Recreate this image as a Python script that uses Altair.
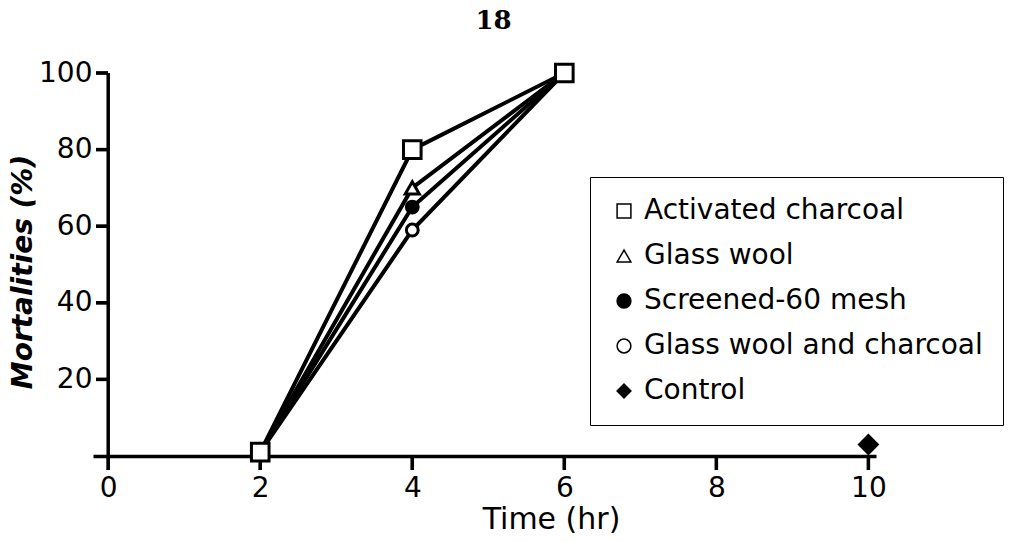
import altair as alt
import pandas as pd

# ---- data ----
series_names = ["Activated charcoal", "Glass wool", "Screened-60 mesh",
                "Glass wool and charcoal", "Control"]
times = [2, 4, 6]
activated_charcoal = [1, 80, 100]
glass_wool = [1, 70, 100]
screened_60_mesh = [1, 65, 100]
glass_wool_and_charcoal = [1, 59, 100]
control_times = [10]
control = [3]

x_ticks = [0, 2, 4, 6, 8, 10]
y_ticks = [20, 40, 60, 80, 100]

shapes = ["square", "triangle-up", "circle", "circle", "diamond"]
fills = ["white", "white", "black", "white", "black"]
strokes = ["black", "black", "black", "black", "black"]

draw_order = [
    ("Glass wool and charcoal", times, glass_wool_and_charcoal),
    ("Screened-60 mesh", times, screened_60_mesh),
    ("Glass wool", times, glass_wool),
    ("Activated charcoal", times, activated_charcoal),
    ("Control", control_times, control),
]
rows = []
for name, ts, vals in draw_order:
    for t, v in zip(ts, vals):
        rows.append({"Treatment": name, "Time": t, "Mortality": v})
df = pd.DataFrame(rows)
xtick_df = pd.DataFrame({"Time": x_ticks})
ytick_df = pd.DataFrame({"Mortality": y_ticks})

FONT = "DejaVu Sans"
TICK = 14                 # tick length in px
W, H = 783, 383 + TICK    # plot area reaches down to the tick ends

x_scale = alt.Scale(domain=[-0.2, 10.1], nice=False, zero=False, padding=0)
y_scale = alt.Scale(domain=[-100 * TICK / 383, 100], nice=False, zero=False, padding=0)

x_enc = alt.X(
    "Time:Q", scale=x_scale,
    axis=alt.Axis(
        values=x_ticks, format="d", title="Time (hr)", grid=False, ticks=False, tickSize=0,
        offset=-TICK, domainColor="black", domainWidth=3.5,
        labelFont=FONT, labelFontSize=28, labelColor="black", labelPadding=18,
        titleFont=FONT, titleFontSize=30, titleFontWeight="normal", titleColor="black",
        titleX=458, titleY=72, titleBaseline="alphabetic", titleAlign="center",
    ),
)
y_enc = alt.Y(
    "Mortality:Q", scale=y_scale,
    axis=alt.Axis(
        values=y_ticks, format="d", title="Mortalities (%)", grid=False, ticks=False,
        tickSize=0, domain=False,
        labelFont=FONT, labelFontSize=28, labelColor="black", labelPadding=1,
        titleFont=FONT, titleFontSize=28, titleFontWeight="bold", titleFontStyle="italic",
        titleColor="black", titlePadding=1,
    ),
)

legend = alt.Legend(
    title=None, orient="none", legendX=497, legendY=104,
    strokeColor="black", padding=20, fillColor="white",
    labelFont=FONT, labelFontSize=28, labelColor="black", labelOffset=6,
    labelLimit=600, rowPadding=17, symbolSize=190,
)
shape_enc = alt.Shape("Treatment:N", scale=alt.Scale(domain=series_names, range=shapes), legend=legend)
fill_enc = alt.Fill("Treatment:N", scale=alt.Scale(domain=series_names, range=fills), legend=legend)
stroke_enc = alt.Stroke("Treatment:N", scale=alt.Scale(domain=series_names, range=strokes), legend=legend)

lines = alt.Chart(df).transform_filter(
    alt.datum.Treatment != "Control"
).mark_line(color="black", strokeWidth=4).encode(
    x=x_enc, y=y_enc, detail="Treatment:N"
)

def points(names, size):
    return alt.Chart(df).transform_filter(
        alt.FieldOneOfPredicate(field="Treatment", oneOf=names)
    ).mark_point(strokeWidth=3, opacity=1, size=size).encode(
        x=x_enc, y=y_enc, shape=shape_enc, fill=fill_enc, stroke=stroke_enc,
    )

pts_circles = points(["Glass wool and charcoal", "Screened-60 mesh"], 140)
pts_tri = points(["Glass wool"], 200)
pts_big = points(["Activated charcoal", "Control"], 310)

# y axis line at Time = 0 and tick marks, drawn through the shared scales
y_axis_line = alt.Chart(xtick_df).transform_filter(alt.datum.Time == 0).mark_rule(
    color="black", strokeWidth=3.5
).encode(x=x_enc, y=alt.value(0), y2=alt.value(H - TICK + 2))

x_tick_rules = alt.Chart(xtick_df).mark_rule(color="black", strokeWidth=3.5).encode(
    x=x_enc, y=alt.value(H - TICK), y2=alt.value(H)
)
x_tick_bars = alt.Chart(xtick_df).mark_bar(color="black", size=3).encode(
    x=x_enc, y=alt.value(H - TICK), y2=alt.value(H)
)
y_tick_rules = alt.Chart(ytick_df).mark_rule(color="black", strokeWidth=3.5).encode(
    y=y_enc, x=alt.value(3), x2=alt.value(15)
)
y_tick_bars = alt.Chart(ytick_df).mark_bar(color="black", size=3, orient="horizontal").encode(
    y=y_enc, x=alt.value(3), x2=alt.value(15)
)

chart = alt.layer(
    y_axis_line, x_tick_rules, x_tick_bars, y_tick_rules, y_tick_bars,
    lines, pts_circles, pts_tri, pts_big
).properties(
    width=W, height=H,
    autosize=alt.AutoSizeParams(type="none"),
    padding={"left": 85, "top": 65, "right": 150, "bottom": 64},
    background="white",
    title=alt.TitleParams("18", font="DejaVu Serif", fontSize=26, fontWeight="bold",
                          color="black", offset=24, dx=9),
).configure_view(strokeWidth=0)

chart.save("out.html", embed_options={"renderer": "svg", "actions": False})
